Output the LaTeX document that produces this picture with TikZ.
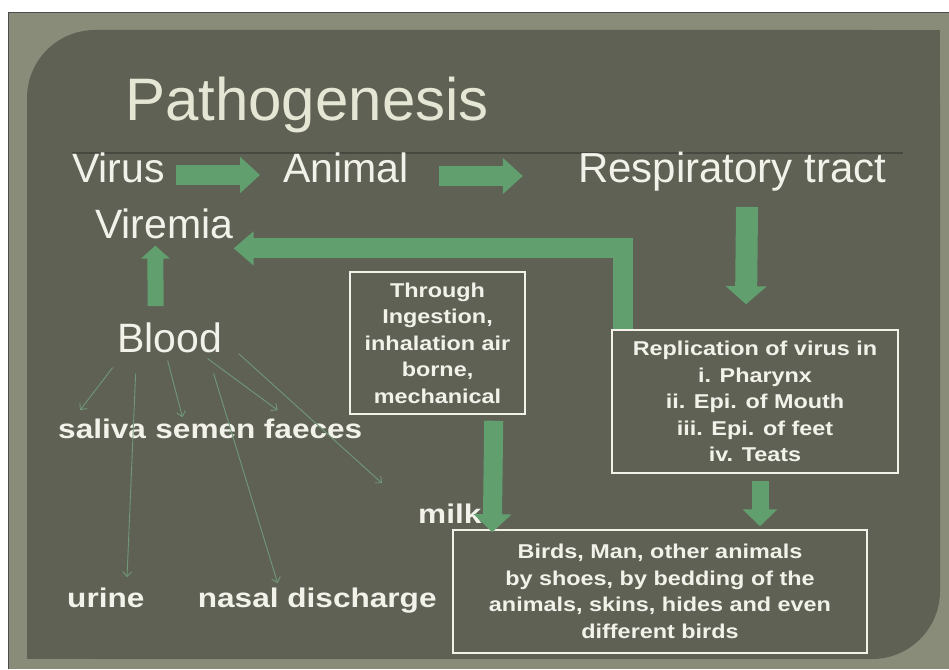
\documentclass[tikz,border=0pt]{standalone}
\usepackage{fontspec}
\setmainfont{Liberation Sans}
\newfontfamily\widebold[FakeStretch=1.17]{Liberation Sans}
\usetikzlibrary{arrows.meta, positioning}

\definecolor{panelgray}{RGB}{95,97,85}
\definecolor{framegray}{RGB}{136,140,120}
\definecolor{arrowgreen}{RGB}{97,160,110}
\definecolor{linkgreen}{RGB}{112,152,120}
\definecolor{chalk}{RGB}{242,242,234}
\definecolor{titlecream}{RGB}{230,230,212}

\begin{document}
\begin{tikzpicture}[x=1pt, y=-1pt,
    bigword/.style={font=\fontsize{41}{48}\selectfont, text=chalk, inner sep=0pt, anchor=base west},
    boldword/.style={font=\widebold\bfseries\fontsize{27}{32}\selectfont, text=chalk, inner sep=0pt, anchor=base west},
    infobox/.style={draw=chalk, line width=1.5pt, font=\widebold\bfseries\fontsize{20}{26.5}\selectfont, text=chalk, align=center},
    fatarrow/.style={draw=arrowgreen, line width=20pt, -{Triangle[length=20pt, width=38pt]}},
    slimarrow/.style={draw=linkgreen, line width=0.9pt, -{Straight Barb[length=5pt, width=9pt]}}
]
\useasboundingbox (0,0) rectangle (949,669);
\fill[white] (0,0) rectangle (949,669);
\fill[framegray] (8,13) rectangle (949,669);
\draw[black!70, line width=1pt] (8,669) -- (8,13) -- (949,13);

% slide panel
\fill[panelgray, rounded corners=68pt] (27,30) rectangle (940,659);
\fill[panelgray] (480,30) rectangle (940,300);
\fill[panelgray] (27,300) rectangle (480,659);
\draw[panelgray!75!black, line width=1.2pt] (72,153) -- (903,153);

\node[bigword, font=\fontsize{60}{66}\selectfont, text=titlecream] (title) at (125,120) {Pathogenesis};

% top row
\node[bigword] (virus) at (72,182) {Virus};
\node[bigword, base right=118pt of virus] (animal) {Animal};
\node[bigword, font=\fontsize{42}{48}\selectfont, base right=169pt of animal] (resp) {Respiratory tract};
\node[bigword] (viremia) at (95,238) {Viremia};
\node[bigword] (blood) at (117,352) {Blood};

% excretions
\node[boldword] (saliva) at (58,438) {saliva};
\node[boldword, base right=9pt of saliva] (semen) {semen};
\node[boldword, base right=8pt of semen] (faeces) {faeces};
\node[boldword] (urine) at (67,607) {urine};
\node[boldword, base right=53pt of urine] (nasal) {nasal discharge};
\node[boldword] (milk) at (418,523) {milk};

% boxes
\node[infobox, minimum width=175pt, minimum height=142pt] (through) at (437.5,343)
    {Through\\Ingestion,\\inhalation air\\borne,\\mechanical};
\node[infobox, minimum width=286pt, minimum height=143pt] (repl) at (755,401.5)
    {Replication of virus in\\i. Pharynx\\ii. Epi. of Mouth\\iii. Epi. of feet\\iv. Teats};
\node[infobox, minimum width=414pt, minimum height=123pt] (birds) at (660,591.5)
    {Birds, Man, other animals\\by shoes, by bedding of the\\animals, skins, hides and even\\different birds};

% thin links from blood
\draw[slimarrow] ([xshift=-57pt, yshift=-15pt]blood.south) -- ([xshift=22pt, yshift=8pt]saliva.north west);
\draw[slimarrow] ([xshift=-34pt, yshift=-21pt]blood.south) -- ([xshift=60pt, yshift=10pt]urine.north west);
\draw[slimarrow] ([xshift=-2pt, yshift=-8pt]blood.south) -- ([xshift=-23pt, yshift=6pt]semen.north);
\draw[slimarrow] ([xshift=38pt, yshift=-6pt]blood.south) -- ([xshift=14pt, yshift=8pt]faeces.north west);
\draw[slimarrow] ([xshift=44pt, yshift=-21pt]blood.south) -- ([xshift=80pt, yshift=4pt]nasal.north west);
\draw[slimarrow] ([xshift=69pt, yshift=-1pt]blood.south) -- ([xshift=-36pt, yshift=20pt]milk.north west);

% block arrows
\draw[fatarrow, -{Triangle[length=20pt, width=35pt]}] ([xshift=11pt, yshift=7pt]virus.base east) -- ([xshift=-23pt, yshift=7pt]animal.base west);
\draw[fatarrow, -{Triangle[length=20pt, width=35pt]}] ([xshift=30pt, yshift=6pt]animal.base east) -- ([xshift=-55pt, yshift=6pt]resp.base west);
\draw[fatarrow, line width=22pt, -{Triangle[length=18pt, width=40pt]}] ([xshift=15pt, yshift=-16pt]resp.south) -- ([xshift=-9pt, yshift=25pt]repl.north);
\draw[fatarrow, line width=16pt, -{Triangle[length=13pt, width=28pt]}] ([xshift=-14pt, yshift=16pt]blood.north) -- ([xshift=-9pt, yshift=-7pt]viremia.south);
\draw[fatarrow, -{Triangle[length=20pt, width=33pt]}] ([xshift=12pt]repl.north west) |- ([yshift=-25pt]viremia.east);
\draw[fatarrow, line width=19pt, -{Triangle[length=18pt, width=37pt]}] ([xshift=-32pt, yshift=-6pt]through.south east) -- ([xshift=40pt, yshift=-3pt]birds.north west);
\draw[fatarrow, line width=17pt, -{Triangle[length=17pt, width=34pt]}] ([xshift=5pt, yshift=-7pt]repl.south) -- ([xshift=100pt, yshift=3pt]birds.north);
\end{tikzpicture}
\end{document}
